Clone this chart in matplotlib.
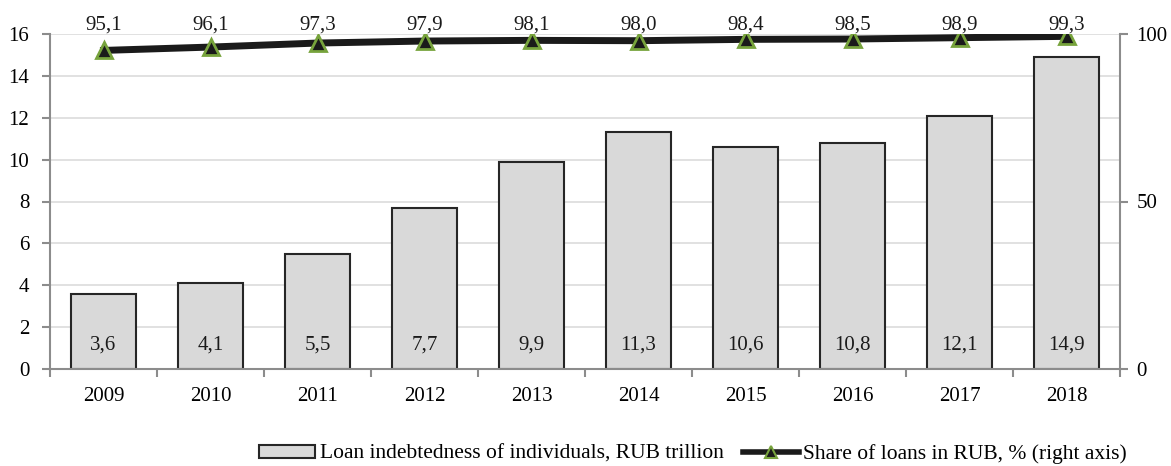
import matplotlib.pyplot as plt
from matplotlib.lines import Line2D
from matplotlib.ticker import FixedLocator, NullFormatter

plt.rcParams['font.family'] = ['Liberation Serif', 'DejaVu Serif']

years = ['2009', '2010', '2011', '2012', '2013', '2014', '2015', '2016', '2017', '2018']
loans = [3.6, 4.1, 5.5, 7.7, 9.9, 11.3, 10.6, 10.8, 12.1, 14.9]
rub_share = [95.1, 96.1, 97.3, 97.9, 98.1, 98.0, 98.4, 98.5, 98.9, 99.3]
left_ticks = [0, 2, 4, 6, 8, 10, 12, 14, 16]
right_ticks = [0, 50, 100]

FS = 15
FS_LEG = 15.5


def fmt(v):
    return f'{v:.1f}'.replace('.', ',')


fig = plt.figure(figsize=(11.71, 4.66), dpi=100)
ax = fig.add_axes([50 / 1171, 1 - 369 / 466, (1120 - 50) / 1171, (369 - 34) / 466])
x = list(range(len(years)))

spine_col = '#8c8c8c'
ax.set_axisbelow(True)
ax.grid(axis='y', color='#dcdcdc', linewidth=1.2)
bars = ax.bar(x, loans, width=0.6, color='#d9d9d9', edgecolor='#262626', linewidth=1.5,
              label='Loan indebtedness of individuals, RUB trillion', zorder=2)
for xi, v in zip(x, loans):
    ax.text(xi, 1.15, fmt(v), ha='center', va='center', fontsize=FS, color='#1a1a1a', zorder=3)

ax.set_xlim(-0.5, len(years) - 0.5)
ax.set_ylim(0, 16)
ax.set_yticks(left_ticks)
ax.set_xticks(x)
ax.set_xticklabels(years)
ax.xaxis.set_minor_locator(FixedLocator([i - 0.5 for i in range(len(years) + 1)]))
ax.xaxis.set_minor_formatter(NullFormatter())
ax.tick_params(axis='x', which='major', length=0, pad=13, labelsize=FS)
ax.tick_params(axis='x', which='minor', length=6, width=1.5, color=spine_col, direction='out')
ax.tick_params(axis='y', length=6, width=1.5, color=spine_col, labelsize=FS, pad=9)
for s in ['top', 'right']:
    ax.spines[s].set_visible(False)
for s in ['left', 'bottom']:
    ax.spines[s].set_color(spine_col)
    ax.spines[s].set_linewidth(1.5)

ax2 = ax.twinx()
line, = ax2.plot(x, rub_share, color='#1a1a1a', linewidth=5, marker='^', markersize=12,
                 markerfacecolor='#1a1a1a', markeredgecolor='#77a33c', markeredgewidth=2,
                 label='Share of loans in RUB, % (right axis)', zorder=4)
for xi, v in zip(x, rub_share):
    ax2.text(xi, 102.8, fmt(v), ha='center', va='center', fontsize=FS, color='#1a1a1a', zorder=5)
ax2.set_ylim(0, 100)
ax2.set_yticks(right_ticks)
ax2.tick_params(axis='y', length=6, width=1.5, color=spine_col, labelsize=FS, pad=6)
for s in ['top', 'left', 'bottom']:
    ax2.spines[s].set_visible(False)
ax2.spines['right'].set_color(spine_col)
ax2.spines['right'].set_linewidth(1.5)

line_handle = Line2D([], [], color='#1a1a1a', linewidth=4, marker='^', markersize=8,
                     markerfacecolor='#1a1a1a', markeredgecolor='#77a33c', markeredgewidth=1.5)
fig.legend([bars, line_handle], [bars.get_label(), line.get_label()], loc='center',
           bbox_to_anchor=(693 / 1171, 1 - 454 / 466), ncol=2, frameon=False,
           fontsize=FS_LEG, handlelength=2.6, handleheight=0.55, handletextpad=0.2,
           columnspacing=0.9, borderpad=0, borderaxespad=0)

fig.savefig('out.png', dpi=100)
